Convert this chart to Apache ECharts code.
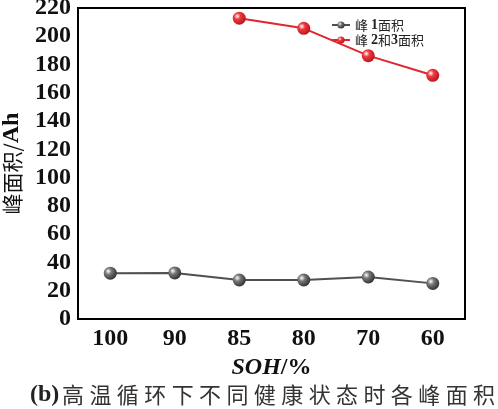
<!DOCTYPE html>
<html>
<head>
<meta charset="utf-8">
<script src="https://cdn.jsdelivr.net/npm/echarts@6/dist/echarts.min.js"></script>
<style>
html, body { margin: 0; padding: 0; background: #fff; }
#main { width: 498px; height: 409px; }
</style>
</head>
<body>
<div id="main"></div>
<script>
// 横轴 SOH 分类
var sohList = ['100', '90', '85', '80', '70', '60'];
// 峰1面积
var peak1 = [32.4, 32.6, 27.6, 27.6, 29.7, 25.2];
// 峰2和3面积（前两个点缺失）
var peak23 = [null, null, 212.8, 205.6, 186.3, 172.4];
var yTicks = [0, 220, 20];

var chart = echarts.init(document.getElementById('main'));

var serif = '"Liberation Serif", "Times New Roman", serif';
var cjk = '"Noto Sans CJK SC", sans-serif';

// 小球样式
function ball(c1, c2) {
    return {
        type: 'radial', x: 0.35, y: 0.35, r: 0.7,
        colorStops: [
            { offset: 0, color: '#ffffff' },
            { offset: 0.35, color: c1 },
            { offset: 1, color: c2 }
        ]
    };
}

// 图题，逐字加间距
var caption = '高温循环下不同健康状态时各峰面积';
var captionText = '{b|(b)}' + caption.split('').map(function (c) {
    return '{c|' + c + '}';
}).join('');

var option = {
    backgroundColor: '#fff',
    animation: false,
    grid: {
        left: 78, right: 33, top: 8, bottom: 90,
        outerBoundsMode: 'none',
        show: true, borderColor: '#000', borderWidth: 2
    },
    legend: {
        orient: 'vertical',
        left: 326, top: 13,
        itemWidth: 18, itemHeight: 9, itemGap: 1,
        textStyle: {
            fontFamily: cjk, fontSize: 13, color: '#222',
            rich: { b: { fontFamily: serif, fontWeight: 'bold', fontSize: 14, color: '#222' } }
        },
        formatter: function (name) {
            if (name === '峰1面积') return '峰 {b|1}面积';
            return '峰 {b|2}和{b|3}面积';
        },
        data: ['峰1面积', '峰2和3面积']
    },
    xAxis: {
        type: 'category',
        data: sohList,
        boundaryGap: true,
        name: '{i|SOH}{n|/%}',
        nameLocation: 'middle',
        nameGap: 34,
        nameTextStyle: {
            rich: {
                i: { fontFamily: serif, fontStyle: 'italic', fontWeight: 'bold', fontSize: 24, color: '#111' },
                n: { fontFamily: serif, fontWeight: 'bold', fontSize: 24, color: '#111' }
            }
        },
        axisLine: { lineStyle: { color: '#000', width: 2 } },
        axisTick: { alignWithLabel: true, inside: true, length: 6, lineStyle: { color: '#000', width: 2 } },
        axisLabel: { fontFamily: serif, fontWeight: 'bold', fontSize: 24, color: '#111', margin: 8 }
    },
    yAxis: {
        type: 'value',
        min: yTicks[0], max: yTicks[1], interval: yTicks[2],
        name: '峰面积/{b|Ah}',
        nameLocation: 'middle',
        nameGap: 52,
        nameRotate: 90,
        nameTextStyle: {
            fontFamily: cjk, fontSize: 21, color: '#111',
            rich: { b: { fontFamily: serif, fontWeight: 'bold', fontSize: 24, color: '#111' } }
        },
        splitLine: { show: false },
        axisLine: { show: true, lineStyle: { color: '#000', width: 2 } },
        axisTick: { show: false },
        axisLabel: { fontFamily: serif, fontWeight: 'bold', fontSize: 24, color: '#111', margin: 7 }
    },
    series: [{
        name: '峰1面积',
        type: 'line',
        data: peak1,
        symbol: 'circle',
        symbolSize: 13,
        lineStyle: { color: '#505050', width: 2 },
        itemStyle: { color: ball('#7a7a7a', '#2e2e2e'), borderWidth: 0 }
    }, {
        name: '峰2和3面积',
        type: 'line',
        data: peak23,
        symbol: 'circle',
        symbolSize: 13,
        lineStyle: { color: '#e0262d', width: 2 },
        itemStyle: { color: ball('#ec3a40', '#b8141a'), borderWidth: 0 }
    }],
    graphic: [{
        type: 'text',
        left: 30,
        top: 383,
        style: {
            text: captionText,
            fill: '#222',
            rich: {
                b: { fontFamily: serif, fontWeight: 'bold', fontSize: 24, fill: '#222' },
                c: { fontFamily: cjk, fontSize: 22, fill: '#333', padding: [0, 2.7, 0, 2.7] }
            }
        }
    }]
};

chart.setOption(option);
</script>
</body>
</html>
